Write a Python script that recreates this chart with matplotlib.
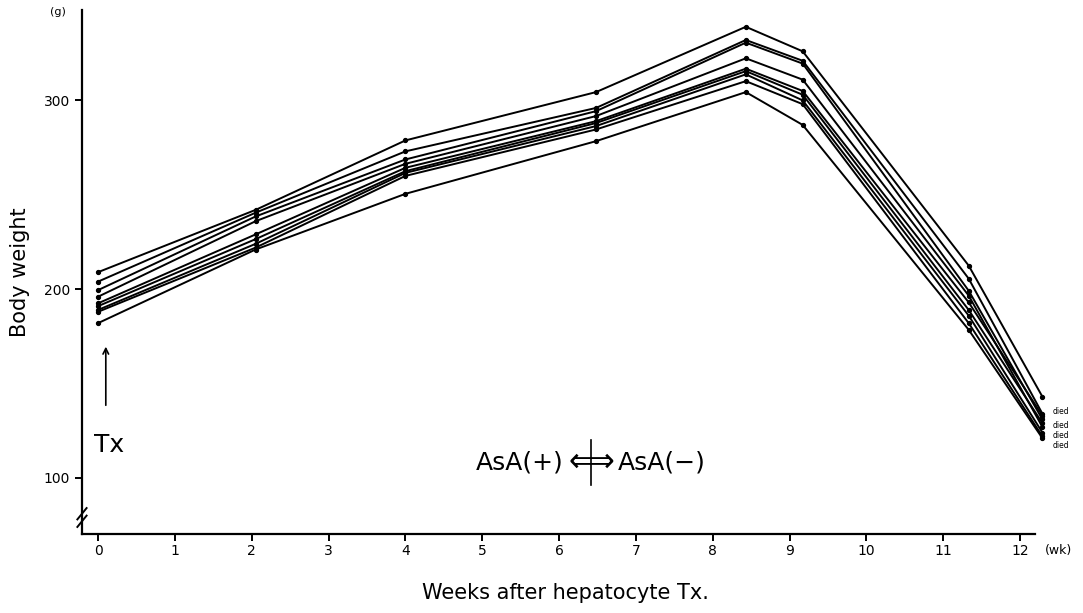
import matplotlib
matplotlib.use("Agg")
import matplotlib.pyplot as plt

# ----------------------------------------------------------------------
# Body weight of each rat (g)
# ----------------------------------------------------------------------
weeks = [0, 2.05, 4.0, 6.48, 8.43, 9.17, 11.33, 12.29]

rat1 = [209, 242, 278.8, 304.4, 339, 326, 212.5, 143]
rat2 = [204, 240.5, 273, 296, 332, 321, 205.6, 134]
rat3 = [199.5, 238.5, 268.7, 294.3, 330.6, 319.5, 199.2, 131]
rat4 = [196, 236, 266.4, 291.7, 322.3, 311, 196.6, 127]
rat5 = [192.5, 229, 264.3, 289, 316.8, 305, 193, 133]
rat6 = [191, 226.5, 262.5, 288, 315.5, 303, 189, 129]
rat7 = [189, 224, 261.6, 286.4, 313.8, 300, 186, 124]
rat8 = [188, 222, 260, 284.6, 310.2, 298, 182, 122]
rat9 = [182, 221, 250.5, 278.4, 304.4, 287, 178.5, 121]
rats = [rat1, rat2, rat3, rat4, rat5, rat6, rat7, rat8, rat9]

week_ticks = list(range(0, 13))
weight_ticks = [100, 200, 300]
died_weights = [135, 127.6, 122.3, 117]

# ----------------------------------------------------------------------
# Plot
# ----------------------------------------------------------------------
fig = plt.figure(figsize=(10.83, 6.13), dpi=100)
ax = fig.add_axes([0.0757, 0.129, 0.8925, 0.855])

for w in rats:
    ax.plot(weeks, w, color="black", lw=1.4, marker="o", ms=2.8,
            clip_on=False)

ax.set_xlim(-0.21, 12.37)
ax.set_ylim(70.3, 348)

for s in ["top", "right"]:
    ax.spines[s].set_visible(False)
ax.spines["left"].set_linewidth(1.6)
ax.spines["bottom"].set_linewidth(1.6)
ax.spines["bottom"].set_bounds(-0.21, 12.2)

ax.set_xticks(week_ticks)
ax.set_yticks(weight_ticks)
ax.tick_params(direction="out", length=5, width=1.4, labelsize=10)
ax.tick_params(axis="x", pad=2)

# unit labels
ax.text(-0.42, 347, "(g)", fontsize=8, ha="right", va="center",
        clip_on=False)
ax.text(12.5, 70.3 - 5.5, "(wk)", fontsize=9, ha="center", va="top",
        clip_on=False)

# axis break on y axis
for dy in (0, 4):
    ax.plot([-0.27, -0.15], [74 + dy, 80 + dy], color="black", lw=1.4,
            clip_on=False)

ax.set_ylabel("Body weight", fontsize=15, labelpad=10)
ax.set_xlabel("Weeks after hepatocyte Tx.", fontsize=15, labelpad=18)

# Tx arrow
ax.annotate("", xy=(0.1, 171), xytext=(0.1, 137),
            arrowprops=dict(arrowstyle="->", color="black", lw=1.2))
ax.text(-0.06, 111, "Tx", fontsize=18, ha="left", va="bottom")

# AsA switch annotation
ax.text(6.06, 108, "AsA(+)", fontsize=18, ha="right", va="center")
ax.text(6.42, 108, "\u27fa", fontsize=23, ha="center", va="center")
ax.text(6.76, 108, "AsA(\u2212)", fontsize=18, ha="left", va="center")
ax.plot([6.42, 6.42], [96.3, 120.2], color="black", lw=1.2)

for d in died_weights:
    ax.text(12.42, d, "died", fontsize=5.5, ha="left", va="center",
            clip_on=False)

plt.savefig("out.png", dpi=100)
